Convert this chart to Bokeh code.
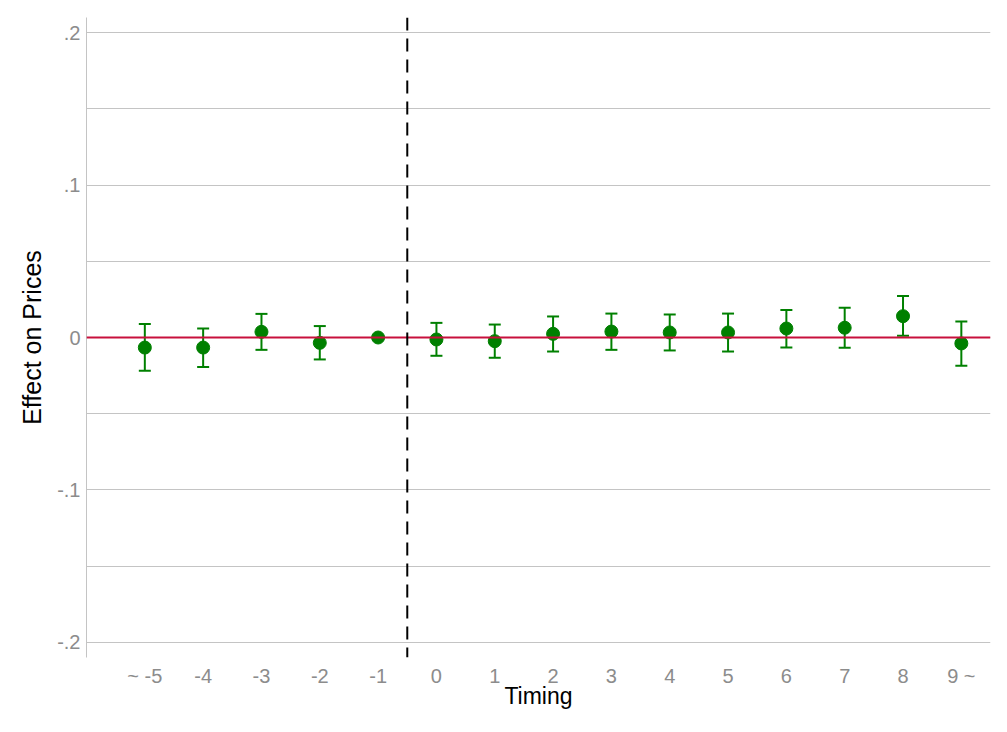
from bokeh.plotting import figure
from bokeh.models import Span, Whisker, ColumnDataSource, FixedTicker, TeeHead, Range1d
from bokeh.embed import file_html
from bokeh.resources import INLINE

timing = [-5, -4, -3, -2, -1, 0, 1, 2, 3, 4, 5, 6, 7, 8, 9]
tick_labels = ["~ -5", "-4", "-3", "-2", "-1", "0", "1", "2", "3", "4", "5", "6", "7", "8", "9 ~"]
estimate = [-0.0066, -0.0066, 0.0037, -0.0035, 0.0, -0.0013, -0.0024, 0.0024, 0.0039, 0.0033, 0.0033, 0.0059, 0.0064, 0.0140, -0.0039]
ci_upper = [0.0088, 0.0059, 0.0155, 0.0075, 0.0, 0.0096, 0.0085, 0.0138, 0.0157, 0.0151, 0.0157, 0.0180, 0.0195, 0.0273, 0.0105]
ci_lower = [-0.0219, -0.0194, -0.0081, -0.0144, 0.0, -0.0120, -0.0133, -0.0092, -0.0081, -0.0085, -0.0092, -0.0066, -0.0068, 0.0011, -0.0186]
y_ticks = [-0.2, -0.1, 0.0, 0.1, 0.2]
y_tick_labels = ["-.2", "-.1", "0", ".1", ".2"]
y_minor = [-0.15, -0.05, 0.05, 0.15]

GRAY = "#c4c4c4"
FONT = "Liberation Sans"

p = figure(frame_width=904, frame_height=640, output_backend="svg", toolbar_location=None,
           x_range=Range1d(-6.0, 9.5), y_range=Range1d(-0.21, 0.21),
           min_border_left=86, min_border_top=17, min_border_right=10, min_border_bottom=66)
p.outline_line_color = None
p.background_fill_color = "white"

p.xgrid.grid_line_color = None
p.ygrid.grid_line_color = GRAY
p.ygrid.grid_line_width = 1
p.ygrid.minor_grid_line_color = GRAY
p.ygrid.minor_grid_line_width = 1

p.yaxis.ticker = FixedTicker(ticks=y_ticks, minor_ticks=y_minor)
p.yaxis.major_label_overrides = {t: l for t, l in zip(y_ticks, y_tick_labels)}
p.xaxis.ticker = FixedTicker(ticks=timing)
p.xaxis.major_label_overrides = {t: l for t, l in zip(timing, tick_labels)}

for ax in (p.xaxis[0], p.yaxis[0]):
    ax.major_tick_line_color = None
    ax.minor_tick_line_color = None
    ax.major_tick_out = 0
    ax.major_tick_in = 0
    ax.minor_tick_out = 0
    ax.minor_tick_in = 0
    ax.major_label_text_font = FONT
    ax.major_label_text_font_size = "20px"
    ax.major_label_text_color = "#8c8c8c"
    ax.axis_label_text_font = FONT
    ax.axis_label_text_font_style = "normal"
    ax.axis_label_text_color = "black"

p.xaxis.axis_label_text_font_size = "23px"
p.yaxis.axis_label_text_font_size = "25px"
p.xaxis.axis_line_color = None
p.yaxis.axis_line_color = GRAY
p.yaxis.axis_line_width = 1
p.xaxis.axis_label = "Timing"
p.yaxis.axis_label = "Effect on Prices"
p.xaxis.major_label_standoff = 7
p.xaxis.axis_label_standoff = -7
p.yaxis.major_label_standoff = 6
p.yaxis.axis_label_standoff = 8

p.add_layout(Span(location=0, dimension="width", line_color="#c8103c", line_width=2))
p.add_layout(Span(location=-0.5, dimension="height", line_color="black", line_width=2, line_dash="13 8"))

mask = [u != l for u, l in zip(ci_upper, ci_lower)]
src_w = ColumnDataSource(data=dict(
    x=[t for t, m in zip(timing, mask) if m],
    upper=[u for u, m in zip(ci_upper, mask) if m],
    lower=[l for l, m in zip(ci_lower, mask) if m],
))
w = Whisker(base="x", upper="upper", lower="lower", source=src_w, dimension="height",
            line_color="green", line_width=2,
            upper_head=TeeHead(size=12, line_color="green", line_width=2),
            lower_head=TeeHead(size=12, line_color="green", line_width=2))
p.add_layout(w)

src = ColumnDataSource(data=dict(x=timing, y=estimate))
p.scatter("x", "y", source=src, size=13, fill_color="green", line_color="green")

open("out.html", "w").write(file_html(p, INLINE))
